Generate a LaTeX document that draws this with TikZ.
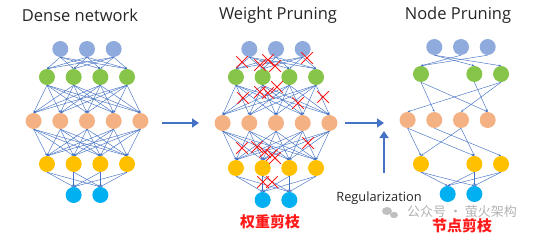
\documentclass[tikz,border=0pt]{standalone}
\usepackage{fontspec}
\setmainfont{Open Sans}
\newfontfamily\cjk{Noto Sans CJK SC}
\usetikzlibrary{arrows.meta,shapes.misc}
\definecolor{cinput}{HTML}{8FAADC}
\definecolor{cgreen}{HTML}{86C54A}
\definecolor{corange}{HTML}{F4B183}
\definecolor{cyellow}{HTML}{FFC000}
\definecolor{ccyan}{HTML}{00B0F0}
\definecolor{cedge}{HTML}{4472C4}
\definecolor{carrow}{HTML}{4472C4}
\definecolor{cred}{HTML}{FF1A1A}

\begin{document}
\begin{tikzpicture}[x=1pt,y=-1pt,
  neuron/.style={circle,minimum size=16pt,inner sep=0pt},
  edge/.style={draw=cedge,line width=0.45pt,-{Stealth[length=2.5pt,width=2pt]}},
  cut/.style={draw=cred,cross out,line width=1pt,minimum size=10.5pt,inner sep=0pt},
  bigarrow/.style={draw=carrow,line width=2.6pt,-{Triangle[length=7pt,width=9pt]}},
  title/.style={font=\fontsize{16.5}{18}\selectfont,text=black!85}]
  \useasboundingbox (0,0) rectangle (541,236);

  % dense and weight-pruned networks (same layout)
  \foreach \n/\cx/\ya/\yb/\yc/\yd/\ye in {d/87/49/77/121/164/195,w/276/49/77/123/168/200}{
    \foreach \i/\o in {1/-1,2/0,3/1}
      \node[neuron,fill=cinput] (\n1-\i) at ({\cx+\o*26.7},\ya) {};
    \foreach \i/\o in {1/-1.5,2/-0.5,3/0.5,4/1.5}
      \node[neuron,fill=cgreen] (\n2-\i) at ({\cx+\o*26.7},\yb) {};
    \foreach \i/\o in {1/-2,2/-1,3/0,4/1,5/2}
      \node[neuron,fill=corange] (\n3-\i) at ({\cx+\o*26.7},\yc) {};
    \foreach \i/\o in {1/-1.5,2/-0.5,3/0.5,4/1.5}
      \node[neuron,fill=cyellow] (\n4-\i) at ({\cx+\o*26.7},\yd) {};
    \foreach \i/\o in {1/-0.5,2/0.5}
      \node[neuron,fill=ccyan] (\n5-\i) at ({\cx+\o*26.7},\ye) {};
    % full connections
    \foreach \a in {1,...,3} \foreach \b in {1,...,4}
      \draw[edge] (\n1-\a.south) -- (\n2-\b.north);
    \foreach \a in {1,...,4} \foreach \b in {1,...,5}
      \draw[edge] (\n2-\a.south) -- (\n3-\b.north);
    \foreach \a in {1,...,5} \foreach \b in {1,...,4}
      \draw[edge] (\n3-\a.south) -- (\n4-\b.north);
    \foreach \a in {1,...,4} \foreach \b in {1,2}
      \draw[edge] (\n4-\a.south) -- (\n5-\b.north);
  }

  % pruned weights
  \foreach \x/\y [count=\k] in {242/62,260/65,268/60,275/66,307/58,
      243/98,260/92,268/93,277/87,298/103,323/97,
      242/148,257/147,265/152,272/155,275/158,308/143,
      263/182,272/182}
    \node[cut] (x\k) at (\x,\y) {};

  % node-pruned network
  \foreach \i/\o in {1/-1,2/0,3/1}
    \node[neuron,fill=cinput] (r1-\i) at ({461+\o*26.7},47) {};
  \foreach \i/\o in {1/-1.5,3/0.5,4/1.5}
    \node[neuron,fill=cgreen] (r2-\i) at ({461+\o*26.7},74) {};
  \foreach \i/\o in {1/-2,2/-1,3/0,4/1}
    \node[neuron,fill=corange] (r3-\i) at ({461+\o*26.7},120) {};
  \foreach \i/\o in {1/-1.5,3/0.5,4/1.5}
    \node[neuron,fill=cyellow] (r4-\i) at ({461+\o*26.7},164) {};
  \foreach \i/\o in {1/-0.5,2/0.5}
    \node[neuron,fill=ccyan] (r5-\i) at ({461+\o*26.7},194) {};
  \foreach \a/\b in {1/3,1/4,2/1,3/1}
    \draw[edge] (r1-\a.south) -- (r2-\b.north);
  \foreach \a/\b in {1/2,1/4,3/4,4/1,4/3}
    \draw[edge] (r2-\a.south) -- (r3-\b.north);
  \foreach \a/\b in {1/1,1/3,2/4,3/1,3/3}
    \draw[edge] (r3-\a.south) -- (r4-\b.north);
  \foreach \a in {1,3,4} \foreach \b in {1,2}
    \draw[edge] (r4-\a.south) -- (r5-\b.north);

  % transitions
  \coordinate (a1s) at (162,123);
  \coordinate (a1e) at (199,123);
  \coordinate (a2s) at (345,123);
  \coordinate (a2e) at (384,123);
  \coordinate (a3s) at (384,173);
  \coordinate (a3e) at (384,131);
  \draw[bigarrow] (a1s) -- (a1e);
  \draw[bigarrow] (a2s) -- (a2e);
  \draw[bigarrow] (a3s) -- (a3e);

  % titles and labels
  \node[title] (tdense) at (80,15) {Dense network};
  \node[title] (tweight) at (278,15) {Weight Pruning};
  \node[title] (tnode) at (458,15) {Node Pruning};
  \node[font=\fontsize{12.8}{14}\selectfont,text=black!85] (reg) at (379,198) {Regularization};
  \node[font=\cjk\fontsize{13}{15}\selectfont,text=black!30] (wm) at (462,212) {公众号 · 萤火架构};
  \fill[black!25] (387,211) ellipse (5pt and 4pt);
  \fill[black!25] (394,215) ellipse (4pt and 3.2pt);
  \node[font=\cjk\bfseries\fontsize{15}{17}\selectfont,text=cred] (lweight) at (270,222) {权重剪枝};
  \node[font=\cjk\bfseries\fontsize{15}{17}\selectfont,text=cred] (lnode) at (462,226) {节点剪枝};
\end{tikzpicture}
\end{document}
